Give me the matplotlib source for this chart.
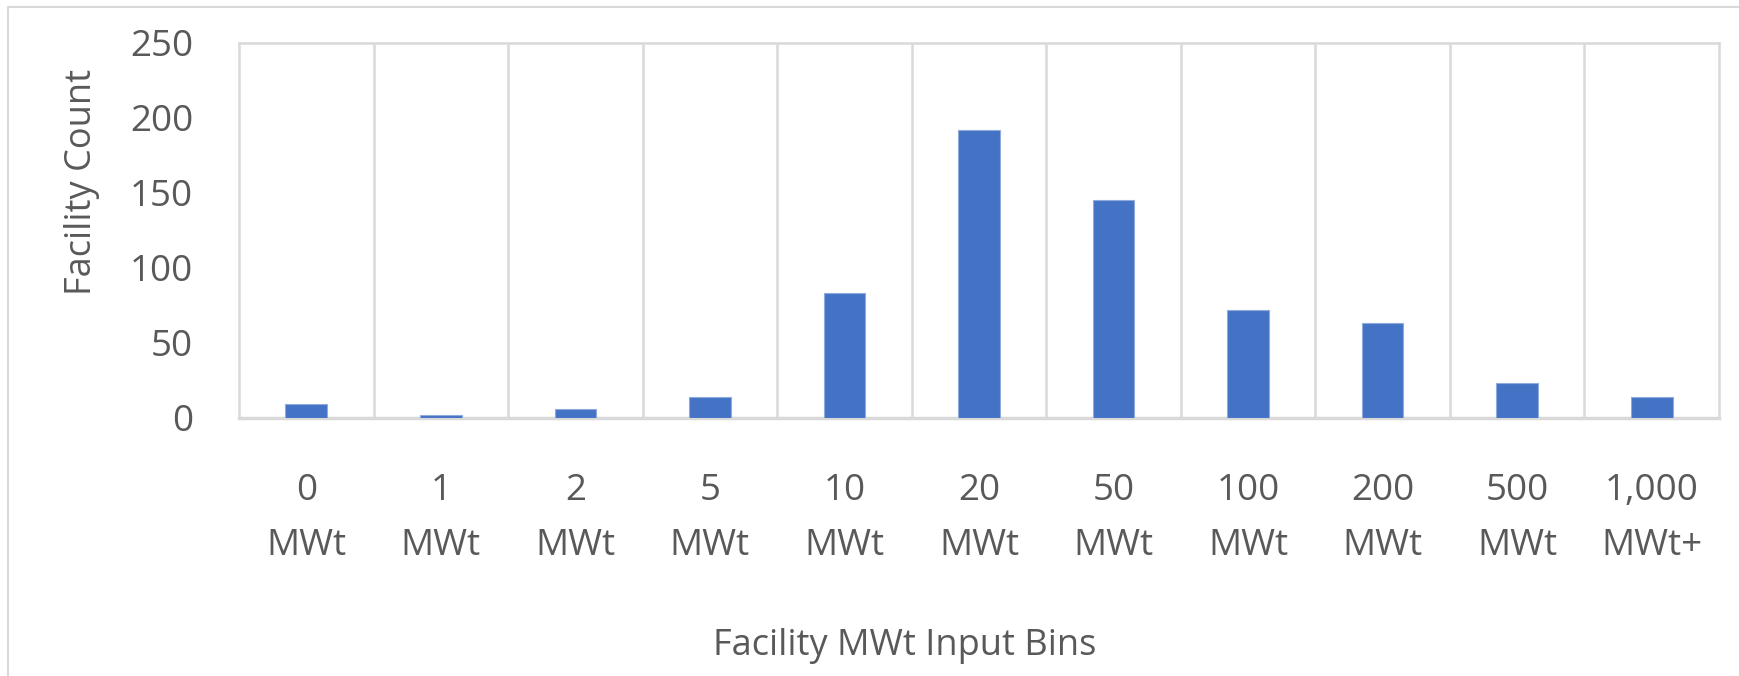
import numpy as np
import matplotlib.pyplot as plt
from matplotlib.patches import Rectangle

# data
bins = ["0\nMWt", "1\nMWt", "2\nMWt", "5\nMWt", "10\nMWt", "20\nMWt",
        "50\nMWt", "100\nMWt", "200\nMWt", "500\nMWt", "1,000\nMWt+"]
counts = [9, 2, 6, 14, 83, 192, 145, 72, 63, 23, 14]
yticks = [0, 50, 100, 150, 200, 250]

blue = "#4472C4"
grey_txt = "#595959"
grid_col = "#D9D9D9"

plt.rcParams['font.family'] = ['Open Sans', 'DejaVu Sans']

fig = plt.figure(figsize=(17.4, 6.76), dpi=100)
ax = fig.add_axes([239/1740, 1-417.5/676, (1719-239)/1740, (417.5-43)/676])

x = np.arange(len(bins))
ax.bar(x, counts, width=0.31, color=blue, edgecolor="#8FAADC", linewidth=0.8, zorder=3)

ax.set_xlim(-0.5, len(bins)-0.5)
ax.set_ylim(0, 250)
ax.set_yticks(yticks)
ax.set_xticks(x)
ax.set_xticklabels(bins, linespacing=1.7)

# vertical gridlines at category boundaries
for b in np.arange(0.5, len(bins)-0.5, 1):
    ax.axvline(b, color=grid_col, linewidth=1.8, zorder=1)

for s in ax.spines.values():
    s.set_color(grid_col)
    s.set_linewidth(1.8)
ax.spines['bottom'].set_linewidth(2.5)

ax.tick_params(axis='both', length=0, labelsize=26.5, colors=grey_txt)
ax.tick_params(axis='y', pad=33)
ax.tick_params(axis='x', pad=40)

fig.text(82/1740, 1-182/676, "Facility Count", rotation=90, ha='center', va='center',
         fontsize=26, color=grey_txt)
fig.text(905/1740, 1-646/676, "Facility MWt Input Bins", ha='center', va='center',
         fontsize=26, color=grey_txt)

fig.patches.append(Rectangle((8/1740, -0.1), 1.2, 1.1-7/676, transform=fig.transFigure,
                             fill=False, edgecolor=grid_col, linewidth=1.5, zorder=0))

fig.savefig("out.png", dpi=100)
